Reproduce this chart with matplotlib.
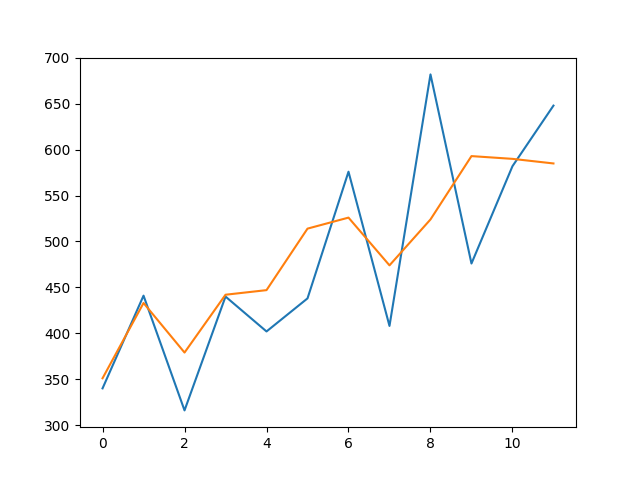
import matplotlib
matplotlib.use("Agg")
from matplotlib import pyplot as plt

# values
x = list(range(12))
actual = [340, 441, 316, 440, 402, 438, 576, 408, 682, 476, 582, 648]
predicted = [351, 433, 379, 442, 447, 514, 526, 474, 524, 593, 590, 585]

fig = plt.figure(figsize=(6.4, 4.8), dpi=100)
plt.plot(x, actual)
plt.plot(x, predicted)
plt.savefig("out.png")
